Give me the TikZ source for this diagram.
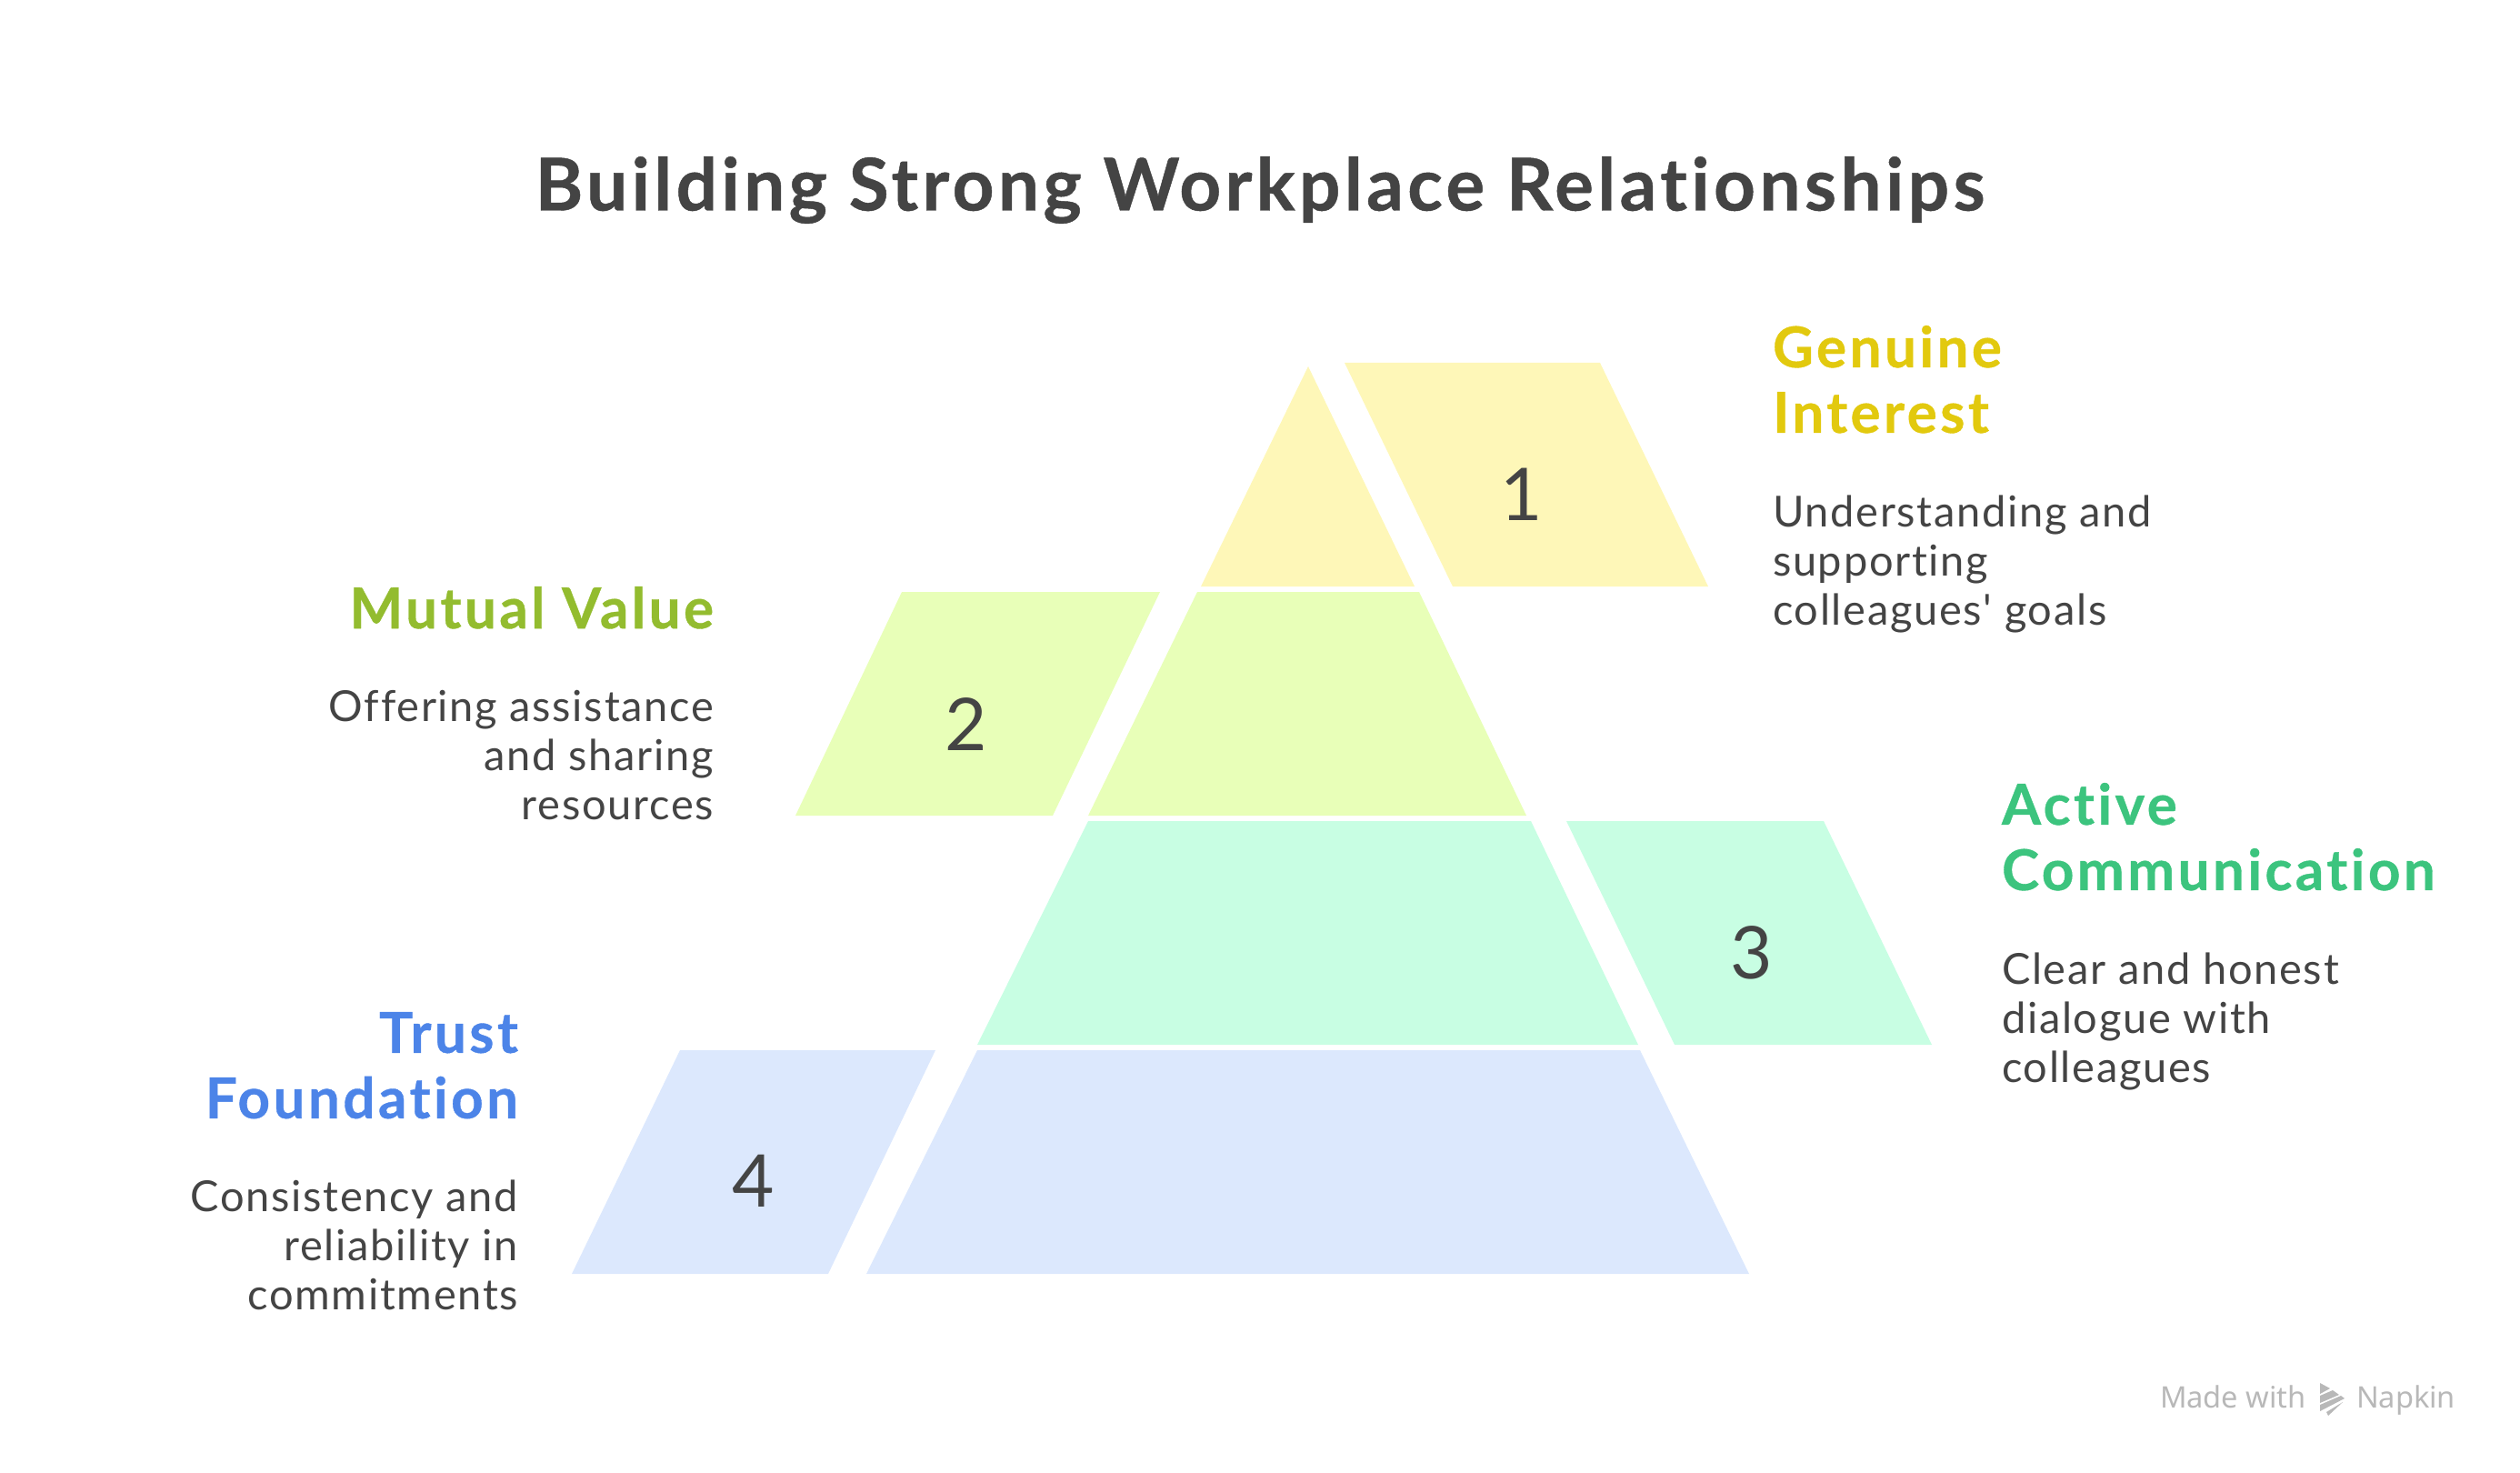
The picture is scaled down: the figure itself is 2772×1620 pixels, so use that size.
\documentclass[tikz,border=0pt]{standalone}
\usepackage{fontspec}
\setmainfont{Lato}
\newfontfamily\headfont[LetterSpace=5.5,Ligatures=NoCommon,BoldFeatures={FakeBold=0.6}]{Lato}
\newfontfamily\bodyfont[LetterSpace=3.6,Ligatures=NoCommon]{Lato}
\newfontfamily\markfont{Noto Sans}
\usetikzlibrary{positioning}
\definecolor{inkgray}{HTML}{444444}
\definecolor{yellowfill}{HTML}{FEF7B8}
\definecolor{greenfill}{HTML}{E8FFB8}
\definecolor{mintfill}{HTML}{C8FEE3}
\definecolor{bluefill}{HTML}{DCE8FD}
\definecolor{yellowhead}{HTML}{E2C90E}
\definecolor{greenhead}{HTML}{93BC2F}
\definecolor{minthead}{HTML}{3CC47E}
\definecolor{bluehead}{HTML}{4C84E8}
\definecolor{markgray}{HTML}{B8B8B8}

\begin{document}
\begin{tikzpicture}[
        x=0.5pt, y=-0.5pt,
        every node/.style={inner sep=0pt, outer sep=0pt, text=inkgray},
        headtext/.style={font=\headfont\fontsize{31}{36}\selectfont\bfseries},
        bodytext/.style={font=\bodyfont\fontsize{23.5}{27}\selectfont},
        numtext/.style={font=\fontsize{40}{44}\selectfont},
        marktext/.style={font=\markfont\fontsize{16.3}{18}\selectfont, text=markgray, anchor=base west},
    ]
    \useasboundingbox (0,0) rectangle (2772,1620);
    % pyramid and the parts pulled out of it
    \fill[yellowfill] (1439,403) -- (1556,645) -- (1321,645) -- cycle;
    \fill[yellowfill] (1479,399) -- (1760,399) -- (1879,645) -- (1598,645) -- cycle;
    \fill[greenfill] (1317,651) -- (1561,651) -- (1679,897) -- (1197,897) -- cycle;
    \fill[greenfill] (992,651) -- (1276,651) -- (1158,897) -- (875,897) -- cycle;
    \fill[mintfill] (1197,903) -- (1684,903) -- (1802,1149) -- (1075,1149) -- cycle;
    \fill[mintfill] (1723,903) -- (2006,903) -- (2125,1149) -- (1842,1149) -- cycle;
    \fill[bluefill] (1075,1155) -- (1804,1155) -- (1924,1401) -- (953,1401) -- cycle;
    \fill[bluefill] (748,1155) -- (1029,1155) -- (911,1401) -- (629,1401) -- cycle;

    \node[numtext] (numOne) at (1674,544) {1};
    \node[numtext] (numTwo) at (1063,797) {2};
    \node[numtext] (numThree) at (1927,1048) {3};
    \node[numtext] (numFour) at (829,1299) {4};

    \node[font=\headfont\fontsize{40}{44}\selectfont\bfseries] (title) at (1386,209) {Building Strong Workplace Relationships};

    \node[headtext, text=yellowhead, anchor=north west, align=left] (headOne) at (1950,358) {Genuine\\Interest};
    \node[bodytext, align=left, below right=34pt and 0pt of headOne.south west] (bodyOne) {Understanding and\\supporting\\colleagues' goals};

    \node[headtext, text=greenhead, anchor=north east, align=right] (headTwo) at (785,645) {Mutual Value};
    \node[bodytext, align=right, below left=34pt and 0pt of headTwo.south east] (bodyTwo) {Offering assistance\\and sharing\\resources};

    \node[headtext, text=minthead, anchor=north west, align=left] (headThree) at (2202,861) {Active\\Communication};
    \node[bodytext, align=left, below right=34pt and 0pt of headThree.south west] (bodyThree) {Clear and honest\\dialogue with\\colleagues};

    \node[headtext, text=bluehead, anchor=north east, align=right] (headFour) at (570,1113) {Trust\\Foundation};
    \node[bodytext, align=right, below left=34pt and 0pt of headFour.south east] (bodyFour) {Consistency and\\reliability in\\commitments};

    % watermark
    \node[marktext] (made) at (2376,1548) {Made with};
    \node[marktext] (napkin) at (2592,1548) {Napkin};
    \fill[markgray] (2552,1521) -- (2563,1527) -- (2552,1533) -- cycle;
    \fill[markgray] (2552,1535) -- (2566,1529) -- (2573,1534) -- (2552,1543) -- cycle;
    \fill[markgray] (2552,1545) -- (2575,1535) -- (2579,1538) -- (2552,1552) -- cycle;
    \fill[markgray] (2559,1553) -- (2577,1542) -- (2561,1557) -- cycle;
\end{tikzpicture}
\end{document}
